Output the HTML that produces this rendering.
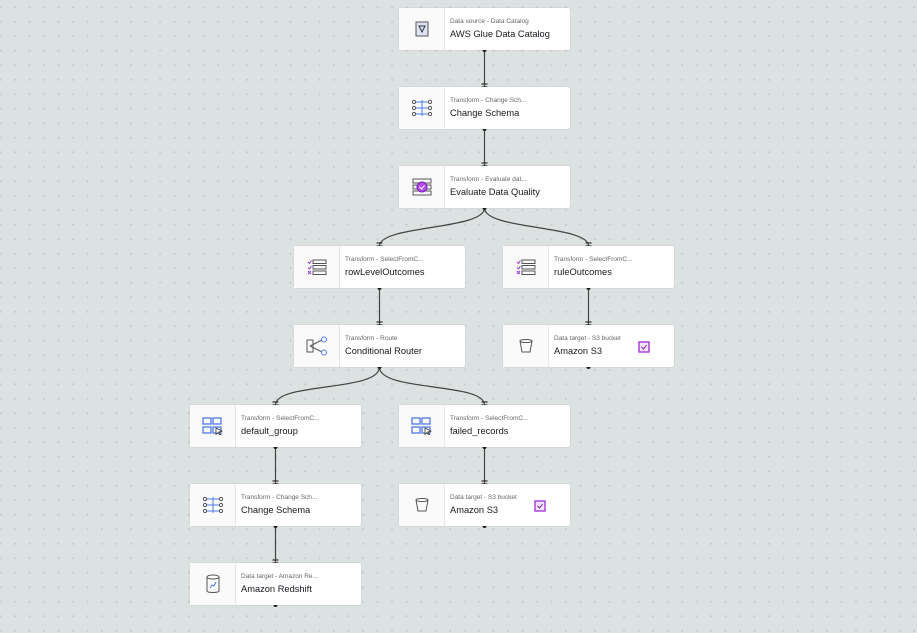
<!DOCTYPE html>
<html><head><meta charset="utf-8"><style>
body{margin:0;width:917px;height:633px;overflow:hidden;background:#dce1e1;
background-image:radial-gradient(circle,#c3caca 0.9px,transparent 1.2px);background-size:14.5px 14.5px;background-position:7.8px 0px;font-family:"Liberation Sans",sans-serif;position:relative}
.n{position:absolute;width:171px;height:42px;background:#fff;border-radius:2px;box-shadow:0 0 1px rgba(0,0,0,.25)}
.n .ic{position:absolute;left:0;top:0;width:45px;height:42px;background:#fafafa;border-right:1px solid #e8e8e8;display:flex;align-items:center;justify-content:center}
.n .l{position:absolute;left:51px;top:10px;font-size:6.5px;color:#666;white-space:nowrap}
.n .t{position:absolute;left:51px;top:21px;font-size:9.3px;color:#16191f;white-space:nowrap}
svg.c{position:absolute;left:0;top:0}
</style></head><body>
<svg class="c" width="917" height="633">
<g stroke="#444" stroke-width="1.2" fill="none">
<path d="M484.5 50V87M484.5 129V166M379.5 288V325M588.5 288V325M275.5 447V484M275.5 526V563M484.5 447V484"/>
<path d="M484.5 208C484.5 230 379.5 225 379.5 246M484.5 208C484.5 230 588.5 225 588.5 246"/>
<path d="M379.5 367C379.5 392 275.5 382 275.5 405M379.5 367C379.5 392 484.5 382 484.5 405"/>
</g>
<g fill="#222">
<circle cx="484.5" cy="50" r="2"/><circle cx="484.5" cy="129" r="2"/><circle cx="484.5" cy="208" r="2"/>
<circle cx="379.5" cy="288" r="2"/><circle cx="588.5" cy="288" r="2"/><circle cx="379.5" cy="367" r="2"/><circle cx="588.5" cy="367" r="2"/>
<circle cx="275.5" cy="447" r="2"/><circle cx="484.5" cy="447" r="2"/><circle cx="275.5" cy="526" r="2"/><circle cx="484.5" cy="526" r="2"/><circle cx="275.5" cy="605" r="2"/>
</g>
<g stroke="#333" stroke-width="1.2">
<path d="M481.5 84h6M481.5 87h6M481.5 163h6M481.5 166h6M376.5 243h6M376.5 246h6M585.5 243h6M585.5 246h6M376.5 322h6M376.5 325h6M585.5 322h6M585.5 325h6M272.5 402h6M272.5 405h6M481.5 402h6M481.5 405h6M272.5 481h6M272.5 484h6M481.5 481h6M481.5 484h6M272.5 560h6M272.5 563h6"/>
</g>
</svg>

<div class="n" style="left:399px;top:8px"><div class="ic"><svg width="14" height="16"><rect x="1" y="1" width="12" height="14" fill="#dde3f5" stroke="#555"/><path d="M4 5h6l-3 6z" fill="none" stroke="#333"/></svg></div><div class="l">Data source - Data Catalog</div><div class="t">AWS Glue Data Catalog</div></div>

<div class="n" style="left:399px;top:87px"><div class="ic"><svg width="22" height="18"><g fill="none" stroke="#555"><circle cx="3" cy="3" r="1.6"/><circle cx="3" cy="9" r="1.6"/><circle cx="3" cy="15" r="1.6"/><circle cx="19" cy="3" r="1.6"/><circle cx="19" cy="9" r="1.6"/><circle cx="19" cy="15" r="1.6"/></g><path d="M5 3h12M5 9h12M5 15h12M11 1v16" stroke="#4e7ae8"/></svg></div><div class="l">Transform - Change Sch...</div><div class="t">Change Schema</div></div>

<div class="n" style="left:399px;top:166px"><div class="ic"><svg width="22" height="18"><g fill="none" stroke="#555"><rect x="2" y="1" width="18" height="4"/><rect x="2" y="7" width="18" height="4"/><rect x="2" y="13" width="18" height="4"/></g><circle cx="11" cy="9" r="5" fill="#b64cf0" stroke="#7a1fb8"/><path d="M8.5 9l2 2 3-3.5" stroke="#fff" fill="none"/></svg></div><div class="l">Transform - Evaluate dat...</div><div class="t">Evaluate Data Quality</div></div>

<div class="n" style="left:294px;top:246px"><div class="ic"><svg width="20" height="16"><g fill="none" stroke="#555"><rect x="6" y="1" width="13" height="3.5"/><rect x="6" y="6.5" width="13" height="3.5"/><rect x="6" y="12" width="13" height="3.5"/></g><path d="M1 3l1.5 1.5 2-3M1 8.5l1.5 1.5 2-3M1 12l3 3M4 12l-3 3" stroke="#9b36d9" fill="none"/></svg></div><div class="l">Transform - SelectFromC...</div><div class="t">rowLevelOutcomes</div></div>

<div class="n" style="left:503px;top:246px"><div class="ic"><svg width="20" height="16"><g fill="none" stroke="#555"><rect x="6" y="1" width="13" height="3.5"/><rect x="6" y="6.5" width="13" height="3.5"/><rect x="6" y="12" width="13" height="3.5"/></g><path d="M1 3l1.5 1.5 2-3M1 8.5l1.5 1.5 2-3M1 12l3 3M4 12l-3 3" stroke="#9b36d9" fill="none"/></svg></div><div class="l">Transform - SelectFromC...</div><div class="t">ruleOutcomes</div></div>

<div class="n" style="left:294px;top:325px"><div class="ic"><svg width="22" height="20"><rect x="1" y="4" width="6" height="12" fill="none" stroke="#555"/><path d="M4 10L16 4M4 10l12 6" stroke="#555" fill="none"/><circle cx="18" cy="3.5" r="2.5" fill="#fff" stroke="#4e7ae8"/><circle cx="18" cy="16.5" r="2.5" fill="#fff" stroke="#4e7ae8"/></svg></div><div class="l">Transform - Route</div><div class="t">Conditional Router</div></div>

<div class="n" style="left:503px;top:325px"><div class="ic"><svg width="16" height="16"><path d="M2 3h12l-2 11H4z" fill="none" stroke="#555"/><ellipse cx="8" cy="3" rx="6" ry="1.5" fill="#fff" stroke="#555"/></svg></div><div class="l">Data target - S3 bucket</div><div class="t">Amazon S3</div><svg style="position:absolute;left:135px;top:16px" width="12" height="12"><rect x="1" y="1" width="10" height="10" fill="#f3e3fb" stroke="#a23ad8" stroke-width="1.4"/><path d="M3.5 6l2 2 3-4" stroke="#7a1fb8" fill="none"/></svg></div>

<div class="n" style="left:190px;top:405px"><div class="ic"><svg width="22" height="18"><g fill="none" stroke="#4e7ae8" stroke-width="1.3"><rect x="1" y="1" width="8" height="6"/><rect x="11" y="1" width="8" height="6"/><rect x="1" y="10" width="8" height="6"/><rect x="11" y="10" width="8" height="6"/></g><path d="M14 11l6 3-3 1 2 3-1 .5-2-3-2 2z" fill="#fff" stroke="#333" stroke-width=".8"/></svg></div><div class="l">Transform - SelectFromC...</div><div class="t">default_group</div></div>

<div class="n" style="left:399px;top:405px"><div class="ic"><svg width="22" height="18"><g fill="none" stroke="#4e7ae8" stroke-width="1.3"><rect x="1" y="1" width="8" height="6"/><rect x="11" y="1" width="8" height="6"/><rect x="1" y="10" width="8" height="6"/><rect x="11" y="10" width="8" height="6"/></g><path d="M14 11l6 3-3 1 2 3-1 .5-2-3-2 2z" fill="#fff" stroke="#333" stroke-width=".8"/></svg></div><div class="l">Transform - SelectFromC...</div><div class="t">failed_records</div></div>

<div class="n" style="left:190px;top:484px"><div class="ic"><svg width="22" height="18"><g fill="none" stroke="#555"><circle cx="3" cy="3" r="1.6"/><circle cx="3" cy="9" r="1.6"/><circle cx="3" cy="15" r="1.6"/><circle cx="19" cy="3" r="1.6"/><circle cx="19" cy="9" r="1.6"/><circle cx="19" cy="15" r="1.6"/></g><path d="M5 3h12M5 9h12M5 15h12M11 1v16" stroke="#4e7ae8"/></svg></div><div class="l">Transform - Change Sch...</div><div class="t">Change Schema</div></div>

<div class="n" style="left:399px;top:484px"><div class="ic"><svg width="16" height="16"><path d="M2 3h12l-2 11H4z" fill="none" stroke="#555"/><ellipse cx="8" cy="3" rx="6" ry="1.5" fill="#fff" stroke="#555"/></svg></div><div class="l">Data target - S3 bucket</div><div class="t">Amazon S3</div><svg style="position:absolute;left:135px;top:16px" width="12" height="12"><rect x="1" y="1" width="10" height="10" fill="#f3e3fb" stroke="#a23ad8" stroke-width="1.4"/><path d="M3.5 6l2 2 3-4" stroke="#7a1fb8" fill="none"/></svg></div>

<div class="n" style="left:190px;top:563px"><div class="ic"><svg width="16" height="20"><path d="M2 3v14c0 2 12 2 12 0V3" fill="none" stroke="#555"/><ellipse cx="8" cy="3" rx="6" ry="2" fill="#fff" stroke="#555"/><path d="M5 14l2-3 2 1 2-4" stroke="#4e7ae8" fill="none"/></svg></div><div class="l">Data target - Amazon Re...</div><div class="t">Amazon Redshift</div></div>
</body></html>
